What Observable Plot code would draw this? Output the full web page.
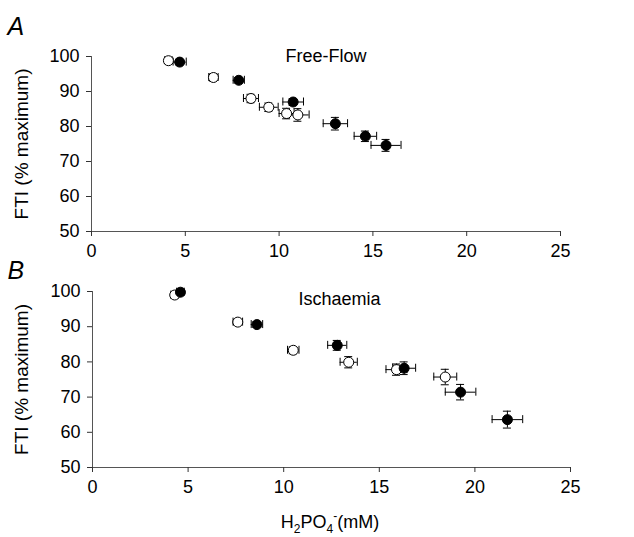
<!DOCTYPE html>
<html><head><meta charset="utf-8">
<script src="https://cdn.jsdelivr.net/npm/d3@7"></script>
<script src="https://cdn.jsdelivr.net/npm/@observablehq/plot@0.6"></script>
<style>
body{margin:0;background:#fff;}
#chart{position:relative;width:634px;height:537px;font-family:"Liberation Sans",Arial,sans-serif;}
#chart svg{position:absolute;left:0;overflow:visible;}
</style></head><body><div id="chart"></div>
<script>
const xTicks = [0, 5, 10, 15, 20, 25];
const yTicks = [50, 60, 70, 80, 90, 100];
const yLabel = "FTI (% maximum)";
const titleA = "Free-Flow";
const titleB = "Ischaemia";

// Panel A: Free-Flow
const aFilledX    = [4.7, 7.85, 10.75, 13.0, 14.6, 15.7];
const aFilledY    = [98.4, 93.2, 87.0, 80.8, 77.2, 74.6];
const aFilledXErr = [0.35, 0.3, 0.55, 0.65, 0.6, 0.8];
const aFilledYErr = [0.8, 0.8, 1.0, 1.8, 1.5, 1.7];
const aOpenX      = [4.1, 6.5, 8.5, 9.45, 10.4, 11.0];
const aOpenY      = [98.8, 94.0, 88.0, 85.5, 83.7, 83.3];
const aOpenXErr   = [0.2, 0.25, 0.4, 0.5, 0.4, 0.6];
const aOpenYErr   = [0.8, 1.0, 1.2, 1.2, 1.5, 1.8];

// Panel B: Ischaemia
const bFilledX    = [4.6, 8.6, 12.8, 16.3, 19.25, 21.7];
const bFilledY    = [99.8, 90.6, 84.7, 78.2, 71.4, 63.6];
const bFilledXErr = [0.2, 0.3, 0.5, 0.6, 0.8, 0.8];
const bFilledYErr = [0.8, 0.8, 1.4, 1.8, 2.2, 2.4];
const bOpenX      = [4.3, 7.6, 10.5, 13.4, 15.9, 18.45];
const bOpenY      = [99.0, 91.3, 83.3, 79.9, 77.8, 75.7];
const bOpenXErr   = [0.2, 0.25, 0.3, 0.45, 0.55, 0.6];
const bOpenYErr   = [0.8, 0.8, 1.0, 1.6, 1.6, 2.2];

function rows(X, Y, XE, YE) {
  return X.map((x, i) => ({x, y: Y[i], xe: XE[i], ye: YE[i]}));
}

function panel({open, filled, title, letter, top, height, mt, mb, ml, mr, letterDy, titleDx, titleDy}) {
  const all = open.concat(filled);
  const cap = 4;
  const marks = [
    Plot.ruleY(all, {x1: d => d.x - d.xe, x2: d => d.x + d.xe, y: "y", stroke: "#000", strokeWidth: 1}),
    Plot.ruleX(all, {x: "x", y1: d => d.y - d.ye, y2: d => d.y + d.ye, stroke: "#000", strokeWidth: 1}),
    Plot.ruleX(all, {x: d => d.x - d.xe, y1: "y", y2: "y", insetTop: -cap, insetBottom: -cap, stroke: "#000"}),
    Plot.ruleX(all, {x: d => d.x + d.xe, y1: "y", y2: "y", insetTop: -cap, insetBottom: -cap, stroke: "#000"}),
    Plot.ruleY(all, {y: d => d.y - d.ye, x1: "x", x2: "x", insetLeft: -cap, insetRight: -cap, stroke: "#000"}),
    Plot.ruleY(all, {y: d => d.y + d.ye, x1: "x", x2: "x", insetLeft: -cap, insetRight: -cap, stroke: "#000"}),
    Plot.dot(open, {x: "x", y: "y", r: 5, fill: "#fff", stroke: "#000", strokeWidth: 1}),
    Plot.dot(filled, {x: "x", y: "y", r: 5, fill: "#000", stroke: "#000", strokeWidth: 1}),
    Plot.ruleX([0], {stroke: "#555"}),
    Plot.ruleY([50], {stroke: "#555"}),
    Plot.axisX(xTicks, {tickSize: 5, tickPadding: 8, fontSize: 18, label: null, stroke: "#333"}),
    Plot.axisY(yTicks, {tickSize: 5, tickPadding: 7, fontSize: 18, label: null, stroke: "#333"}),
    Plot.text([title], {frameAnchor: "top", dx: titleDx, dy: titleDy, lineAnchor: "bottom", fontSize: 18, fill: "#000"}),
    Plot.text([letter], {frameAnchor: "top-left", dx: -(ml - 7), dy: letterDy, lineAnchor: "bottom", textAnchor: "start", fontSize: 25, fontStyle: "italic", fill: "#000"}),
    Plot.text([yLabel], {frameAnchor: "left", rotate: -90, dx: -(ml - 21), textAnchor: "middle", lineAnchor: "middle", fontSize: 19, fill: "#000"})
  ];
  const svg = Plot.plot({
    width: 634, height,
    marginTop: mt, marginBottom: mb, marginLeft: ml, marginRight: mr,
    x: {domain: [0, 25]},
    y: {domain: [50, 100]},
    style: {fontFamily: "Liberation Sans, Arial, sans-serif", fontSize: "18px", color: "#000", background: "transparent", overflow: "visible"},
    marks
  });
  svg.style.top = top + "px";
  return svg;
}

const chart = document.getElementById("chart");
const svgA = panel({
  open: rows(aOpenX, aOpenY, aOpenXErr, aOpenYErr),
  filled: rows(aFilledX, aFilledY, aFilledXErr, aFilledYErr),
  title: titleA, letter: "A", top: 0, height: 268, mt: 56, mb: 37, ml: 91, mr: 74,
  letterDy: -22, titleDx: 0, titleDy: 5
});
const svgB = panel({
  open: rows(bOpenX, bOpenY, bOpenXErr, bOpenYErr),
  filled: rows(bFilledX, bFilledY, bFilledXErr, bFilledYErr),
  title: titleB, letter: "B", top: 268, height: 269, mt: 23, mb: 70, ml: 92, mr: 64,
  letterDy: -13, titleDx: 8, titleDy: 13
});
chart.appendChild(svgA);
chart.appendChild(svgB);

// x-axis title with subscript and superscript
const t = d3.select(svgB).append("text")
  .attr("x", 330).attr("y", 260)
  .attr("text-anchor", "middle")
  .attr("font-size", 18).attr("fill", "#000");
t.append("tspan").text("H");
t.append("tspan").attr("font-size", 12).attr("dy", 5).text("2");
t.append("tspan").attr("dy", -5).text("PO");
t.append("tspan").attr("font-size", 12).attr("dy", 5).text("4");
t.append("tspan").attr("font-size", 12).attr("dy", -13).text("-");
t.append("tspan").attr("dy", 8).text("(mM)");
</script></body></html>
